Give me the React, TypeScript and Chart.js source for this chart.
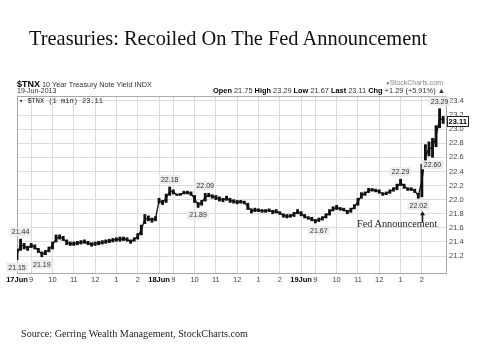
import React, { useEffect, useRef } from "react";
import { Chart, registerables } from "chart.js";

Chart.register(...registerables);

// 10-minute bars, minutes counted from 17Jun 8:20 (each session 8:20-15:00 = 400 min)
const barStep = 10;
const barLow = [
  21.15, 21.28, 21.30, 21.28, 21.32, 21.30, 21.25, 21.19, 21.22, 21.26,
  21.30, 21.40, 21.44, 21.42, 21.36, 21.35, 21.35, 21.36, 21.37, 21.38,
  21.36, 21.34, 21.35, 21.36, 21.37, 21.38, 21.39, 21.40, 21.41, 21.41,
  21.42, 21.41, 21.38, 21.41, 21.44, 21.50, 21.66, 21.70, 21.68, 21.70,
  21.95, 21.93, 21.96, 22.06, 22.08, 22.06, 22.06, 22.08, 22.08, 22.06,
  21.96, 21.89, 21.92, 21.98, 22.04, 22.02, 22.00, 21.98, 21.97, 21.99,
  21.96, 21.95, 21.94, 21.95, 21.94, 21.86, 21.81, 21.83, 21.83, 21.82,
  21.82, 21.83, 21.80, 21.81, 21.79, 21.75, 21.74, 21.75, 21.76, 21.80,
  21.77, 21.74, 21.72, 21.70, 21.67, 21.69, 21.71, 21.74, 21.78, 21.84,
  21.86, 21.85, 21.84, 21.80, 21.82, 21.87, 21.92, 22.02, 22.06, 22.10,
  22.12, 22.11, 22.09, 22.06, 22.07, 22.09, 22.12, 22.14, 22.20, 22.16,
  22.13, 22.13, 22.10, 22.02, 22.04, 22.45, 22.62, 22.60, 22.75, 23.02,
  23.08,
];
const barHigh = [
  21.30, 21.44, 21.38, 21.34, 21.38, 21.36, 21.31, 21.26, 21.28, 21.33,
  21.40, 21.50, 21.50, 21.48, 21.43, 21.40, 21.40, 21.41, 21.42, 21.43,
  21.41, 21.39, 21.40, 21.41, 21.42, 21.43, 21.44, 21.45, 21.46, 21.47,
  21.47, 21.46, 21.43, 21.46, 21.52, 21.64, 21.79, 21.77, 21.74, 21.76,
  22.02, 21.99, 22.08, 22.18, 22.14, 22.08, 22.09, 22.12, 22.12, 22.11,
  22.06, 21.96, 21.99, 22.09, 22.09, 22.07, 22.06, 22.04, 22.02, 22.05,
  22.02, 22.00, 21.99, 21.99, 21.98, 21.95, 21.87, 21.88, 21.87, 21.86,
  21.86, 21.87, 21.85, 21.86, 21.83, 21.80, 21.79, 21.79, 21.82, 21.86,
  21.83, 21.79, 21.76, 21.75, 21.72, 21.74, 21.76, 21.80, 21.86, 21.90,
  21.92, 21.89, 21.88, 21.85, 21.88, 21.93, 22.02, 22.10, 22.11, 22.16,
  22.16, 22.15, 22.14, 22.10, 22.11, 22.14, 22.17, 22.22, 22.29, 22.22,
  22.17, 22.17, 22.15, 22.09, 22.50, 22.78, 22.82, 22.87, 23.05, 23.29,
  23.18,
];

const tickMinutes = [
  0, 40, 100, 160, 220, 280, 340,
  400, 440, 500, 560, 620, 680, 740,
  800, 840, 900, 960, 1020, 1080, 1140,
];
const tickLabels = [
  "17Jun", "9", "10", "11", "12", "1", "2",
  "18Jun", "9", "10", "11", "12", "1", "2",
  "19Jun", "9", "10", "11", "12", "1", "2",
];
const dayLabels = ["17Jun", "18Jun", "19Jun"];
const yTicks = [21.2, 21.4, 21.6, 21.8, 22.0, 22.2, 22.4, 22.6, 22.8, 23.0, 23.2, 23.4];

const noteMinutes = [0, 10, 70, 430, 510, 530, 850, 1080, 1130, 1170, 1190];
const noteValues = [21.15, 21.44, 21.19, 22.18, 21.89, 22.09, 21.67, 22.29, 22.02, 22.6, 23.29];
const noteAbove = [false, true, false, true, false, true, false, true, false, false, true];

const lastValue = 23.11;
const fedMinute = 1140;

const SANS = "'Liberation Sans', Arial, sans-serif";
const SERIF = "'Liberation Serif', 'Times New Roman', serif";

const overlayPlugin = {
  id: "overlay",
  beforeDatasetsDraw(chart: any) {
    const { ctx, chartArea } = chart;
    ctx.save();
    ctx.strokeStyle = "#a8a8a8";
    ctx.lineWidth = 1;
    ctx.strokeRect(
      Math.round(chartArea.left) + 0.5,
      Math.round(chartArea.top) + 0.5,
      Math.round(chartArea.right - chartArea.left),
      Math.round(chartArea.bottom - chartArea.top)
    );
    ctx.restore();
  },
  afterDatasetsDraw(chart: any) {
    const { ctx, chartArea } = chart;
    const xs = chart.scales.x;
    const ys = chart.scales.y;
    ctx.save();
    ctx.font = `7px ${SANS}`;
    ctx.textAlign = "center";
    ctx.textBaseline = "middle";
    let fedLabelBottom = 0;
    noteValues.forEach((v, i) => {
      const px = xs.getPixelForValue(noteMinutes[i]);
      const py = ys.getPixelForValue(v);
      const text = v.toFixed(2);
      const w = ctx.measureText(text).width + 4;
      const h = 9;
      const cy = noteAbove[i] ? py - 3 - h / 2 : py + 3 + h / 2;
      ctx.fillStyle = "#ececec";
      ctx.fillRect(px - w / 2, cy - h / 2, w, h);
      ctx.fillStyle = "#333";
      ctx.fillText(text, px, cy + 0.5);
      if (noteMinutes[i] === 1130) fedLabelBottom = cy + h / 2;
    });
    // Fed announcement arrow
    const ax = Math.round(xs.getPixelForValue(fedMinute)) + 0.5;
    const top = fedLabelBottom + 1;
    ctx.strokeStyle = "#111";
    ctx.fillStyle = "#111";
    ctx.lineWidth = 1.5;
    ctx.beginPath();
    ctx.moveTo(ax, top + 3);
    ctx.lineTo(ax, top + 11);
    ctx.stroke();
    ctx.beginPath();
    ctx.moveTo(ax, top);
    ctx.lineTo(ax - 2.5, top + 4);
    ctx.lineTo(ax + 2.5, top + 4);
    ctx.closePath();
    ctx.fill();
    // last value box on the axis
    const ly = ys.getPixelForValue(lastValue);
    ctx.font = `bold 7.5px ${SANS}`;
    ctx.textAlign = "left";
    const lt = lastValue.toFixed(2);
    const lw = ctx.measureText(lt).width + 3;
    const lx = chartArea.right + 1;
    ctx.fillStyle = "#fff";
    ctx.fillRect(lx, ly - 5, lw, 10);
    ctx.strokeStyle = "#222";
    ctx.lineWidth = 1;
    ctx.strokeRect(Math.round(lx) + 0.5, Math.round(ly - 5) + 0.5, Math.round(lw), 10);
    ctx.fillStyle = "#000";
    ctx.fillText(lt, lx + 1.5, ly + 0.5);
    ctx.restore();
  },
};

function TnxChart() {
  const ref = useRef<HTMLCanvasElement | null>(null);
  useEffect(() => {
    if (!ref.current) return;
    const bars = barLow.map((lo, i) => ({ x: i * barStep, y: [lo, barHigh[i]] }));
    const mids = barLow.map((lo, i) => ({ x: i * barStep, y: (lo + barHigh[i]) / 2 }));
    const chart = new Chart(ref.current, {
      type: "bar",
      data: {
        datasets: [
          {
            type: "line",
            data: mids as any,
            borderColor: "#111",
            borderWidth: 1.3,
            pointRadius: 0,
            tension: 0,
          } as any,
          {
            data: bars as any,
            backgroundColor: "#111",
            borderWidth: 0,
            barThickness: 2.2,
          },
        ],
      },
      options: {
        animation: false,
        responsive: false,
        layout: { padding: { left: 17, top: 96, right: 0, bottom: 0 } },
        plugins: {
          legend: { display: false },
          tooltip: { enabled: false },
          title: { display: false },
        },
        scales: {
          x: {
            type: "linear",
            min: 0,
            max: 1208,
            offset: false,
            afterBuildTicks: (s: any) => {
              s.ticks = tickMinutes.map((v) => ({ value: v }));
            },
            afterFit: (s: any) => {
              s.height = 87;
            },
            grid: { color: "#dcdcdc", lineWidth: 1, drawTicks: false, offset: false },
            border: { display: false },
            ticks: {
              autoSkip: false,
              maxRotation: 0,
              minRotation: 0,
              padding: 2,
              callback: (v: any) => tickLabels[tickMinutes.indexOf(v)] ?? "",
              font: (c: any) => {
                const lbl = tickLabels[tickMinutes.indexOf(c.tick?.value)];
                return { size: 7.5, family: SANS, weight: dayLabels.includes(lbl) ? "bold" : "normal" };
              },
              color: (c: any) => {
                const lbl = tickLabels[tickMinutes.indexOf(c.tick?.value)];
                return dayLabels.includes(lbl) ? "#000" : "#444";
              },
            },
          },
          y: {
            type: "linear",
            position: "right",
            min: 20.96,
            max: 23.47,
            afterBuildTicks: (s: any) => {
              s.ticks = yTicks.map((v) => ({ value: v }));
            },
            afterFit: (s: any) => {
              s.width = 34;
            },
            grid: { color: "#dcdcdc", lineWidth: 1, drawTicks: false },
            border: { display: false },
            ticks: {
              padding: 3,
              callback: (v: any) => Number(v).toFixed(1),
              font: { size: 7.5, family: SANS },
              color: "#444",
            },
          },
        },
      },
      plugins: [overlayPlugin],
    });
    return () => chart.destroy();
  }, []);
  return (
    <canvas
      ref={ref}
      width={480}
      height={360}
      style={{ position: "absolute", left: 0, top: 0, width: 480, height: 360 }}
    />
  );
}

const abs = (left: number, top: number, extra: React.CSSProperties = {}): React.CSSProperties => ({
  position: "absolute",
  left,
  top,
  lineHeight: 1,
  whiteSpace: "nowrap",
  ...extra,
});

export default function App() {
  return (
    <div
      style={{
        position: "absolute",
        left: 0,
        top: 0,
        width: 480,
        height: 360,
        background: "#fff",
        overflow: "hidden",
        fontFamily: SANS,
      }}
    >
      <TnxChart />
      <div style={abs(29, 28, { fontFamily: SERIF, fontSize: 20.4, color: "#111" })}>
        Treasuries: Recoiled On The Fed Announcement
      </div>
      <div style={abs(17, 80, { fontSize: 9, fontWeight: "bold", color: "#000" })}>
        $TNX<span style={{ fontSize: 7.3, fontWeight: "normal", color: "#333" }}> 10 Year Treasury Note Yield INDX</span>
      </div>
      <div style={abs(17, 87, { fontSize: 7, color: "#333" })}>19-Jun-2013</div>
      <div style={abs(0, 87, { fontSize: 7.4, color: "#333", width: 445, textAlign: "right" })}>
        <b style={{ color: "#000" }}>Open</b> 21.75 <b style={{ color: "#000" }}>High</b> 23.29{" "}
        <b style={{ color: "#000" }}>Low</b> 21.67 <b style={{ color: "#000" }}>Last</b> 23.11{" "}
        <b style={{ color: "#000" }}>Chg</b> +1.29 (+5.91%) ▲
      </div>
      <div style={abs(0, 79, { fontSize: 7, color: "#888", width: 443, textAlign: "right" })}>
        <span style={{ fontSize: 6 }}>●</span>StockCharts.com
      </div>
      <div style={abs(19, 98, { fontSize: 7, color: "#222", fontFamily: "'Liberation Mono', monospace" })}>
        <span style={{ fontWeight: "bold" }}>▪</span> $TNX (1 min) 23.11
      </div>
      <div style={abs(357, 219, { fontFamily: SERIF, fontSize: 10.3, color: "#222" })}>Fed Announcement</div>
      <div style={abs(21, 329, { fontFamily: SERIF, fontSize: 10.2, color: "#222" })}>
        Source: Gerring Wealth Management, StockCharts.com
      </div>
    </div>
  );
}
